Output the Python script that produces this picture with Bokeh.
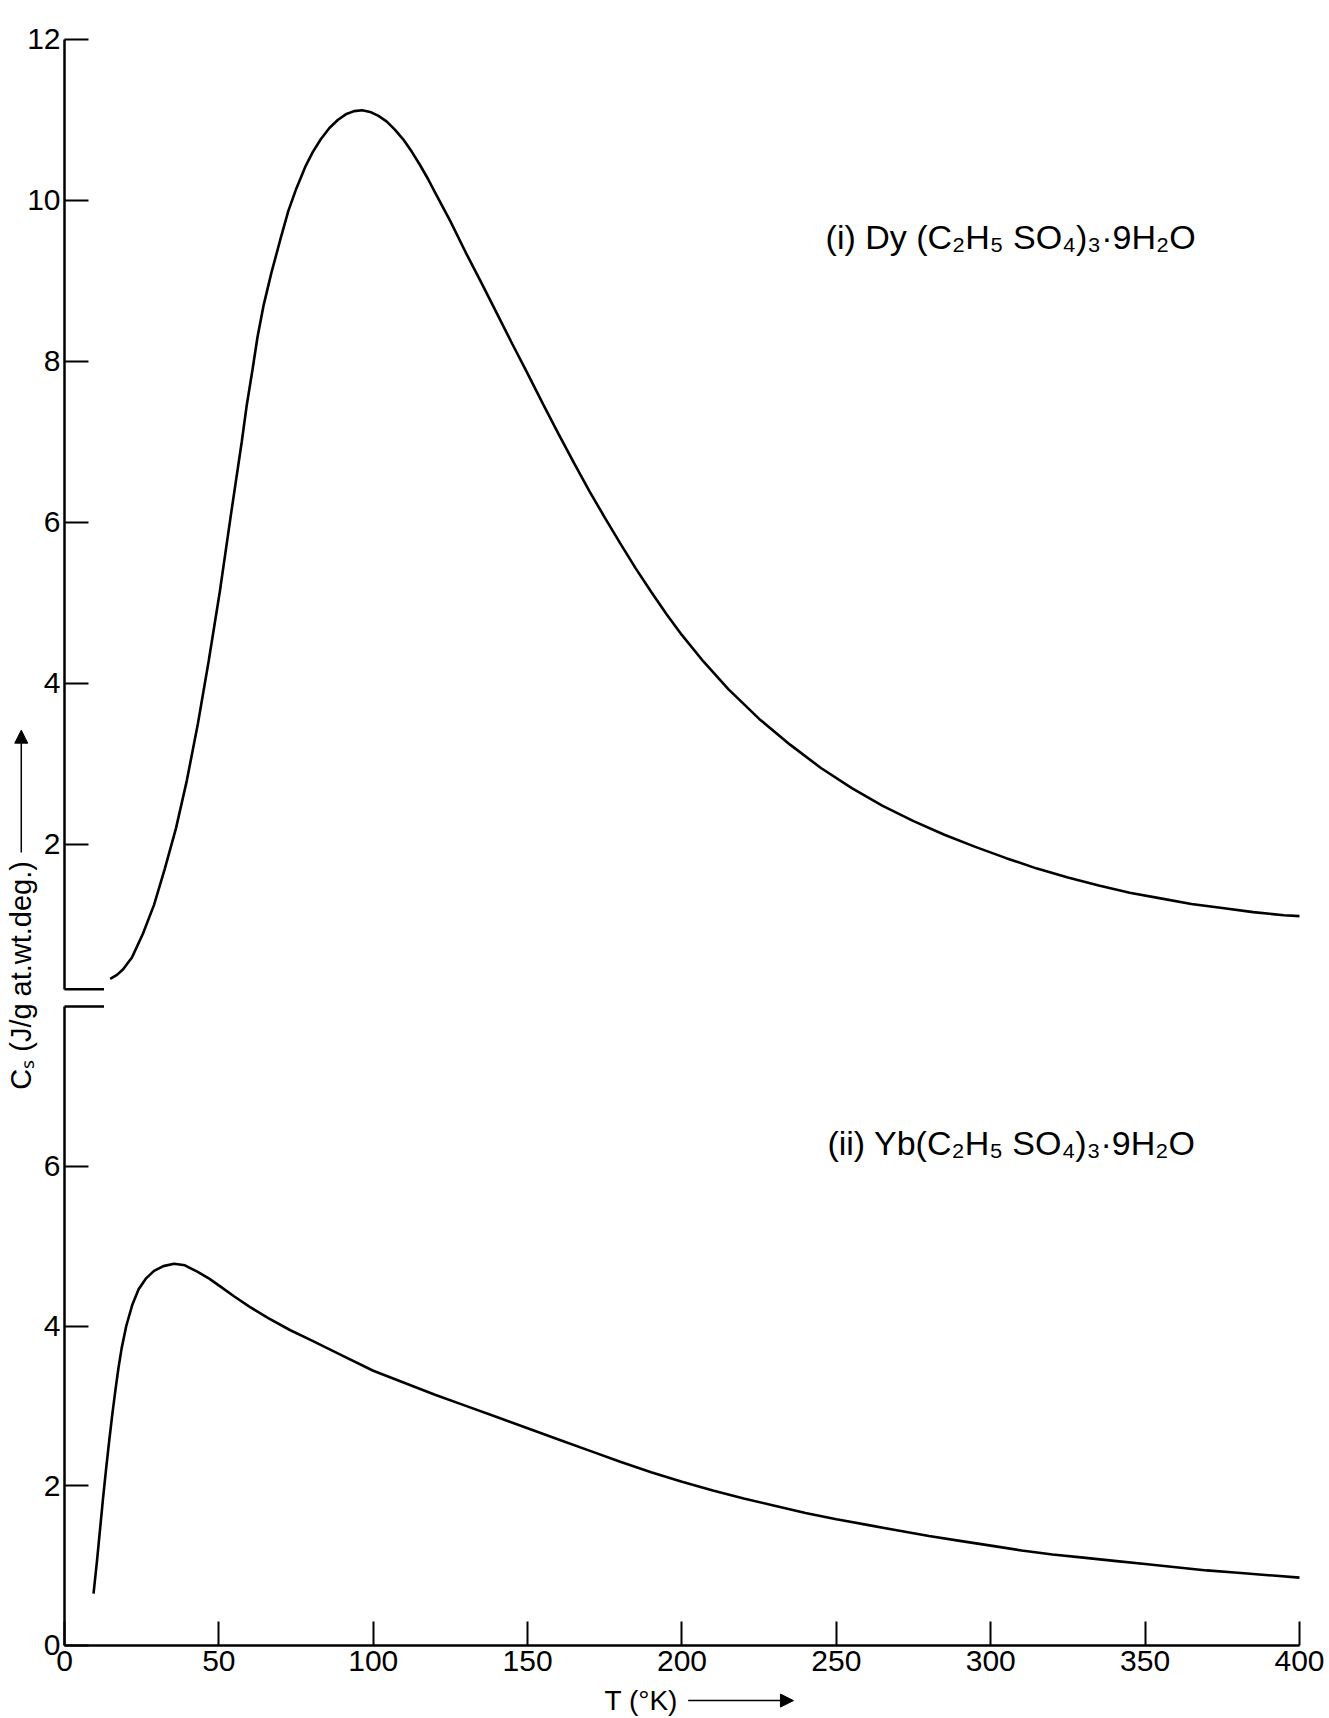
from math import pi
from bokeh.plotting import figure
from bokeh.layouts import column
from bokeh.models import Range1d, FixedTicker, Label, Arrow, NormalHead
from bokeh.embed import file_html
from bokeh.resources import INLINE

# ---------------- data ----------------
dy_T = [14.8, 17.0, 19.0, 21.9, 25.4, 29.0, 32.5, 36.1, 39.6, 43.2, 46.7, 50.3,
        53.8, 57.4, 59.0, 60.9, 62.5, 64.5, 67.0, 69.8, 72.5, 75.1, 78.0, 80.4,
        83.0, 85.8, 88.5, 91.1, 93.8, 96.4, 99.0, 101.7, 104.4, 107.0, 109.7,
        112.4, 115.0, 117.7, 120, 125, 130, 135, 140, 145, 150, 155, 160, 165,
        170, 175, 180, 185, 190, 195, 200, 207, 215, 225, 235, 245, 255, 265,
        275, 285, 295, 305, 315, 325, 335, 345, 355, 365, 375, 385, 395, 400]
dy_C = [0.33, 0.38, 0.45, 0.60, 0.89, 1.25, 1.70, 2.20, 2.79, 3.50, 4.28, 5.14,
        6.07, 7.00, 7.45, 7.90, 8.30, 8.70, 9.10, 9.50, 9.87, 10.15, 10.42, 10.60,
        10.76, 10.90, 11.00, 11.07, 11.11, 11.12, 11.10, 11.05, 10.98, 10.88, 10.76,
        10.61, 10.45, 10.27, 10.10, 9.74, 9.35, 8.98, 8.60, 8.22, 7.85, 7.47, 7.10, 6.74,
        6.39, 6.06, 5.74, 5.43, 5.14, 4.86, 4.60, 4.27, 3.93, 3.56, 3.24, 2.95, 2.70, 2.48,
        2.29, 2.12, 1.97, 1.83, 1.70, 1.59, 1.49, 1.40, 1.33, 1.26, 1.21, 1.16, 1.12, 1.11]

yb_T = [9.4, 10.5, 11.5, 12.5, 13.5, 14.5, 15.5, 16.5, 17.5, 18.5, 20.0, 22.0,
        24.0, 26.5, 29.0, 32.0, 35.5, 39.0, 43.0, 47.0, 51.0, 55.0, 60.0, 66.0,
        73.0, 80.0, 90.0, 100, 110, 120, 130, 140, 150, 160, 170, 180, 190, 200,
        210, 220, 230, 240, 250, 260, 270, 280, 290, 300, 310, 320, 330, 340,
        350, 360, 370, 380, 390, 400]
yb_C = [0.65, 1.05, 1.45, 1.85, 2.22, 2.57, 2.90, 3.20, 3.48, 3.72, 4.00, 4.27,
        4.46, 4.60, 4.69, 4.75, 4.78, 4.76, 4.68, 4.59, 4.48, 4.37, 4.24, 4.10,
        3.95, 3.82, 3.63, 3.44, 3.29, 3.14, 3.00, 2.86, 2.72, 2.58, 2.44, 2.30, 2.17, 2.05,
        1.94, 1.84, 1.75, 1.66, 1.58, 1.51, 1.44, 1.37, 1.31, 1.25, 1.19, 1.14, 1.10, 1.06,
        1.02, 0.98, 0.94, 0.91, 0.88, 0.85]

x_ticks = [0, 50, 100, 150, 200, 250, 300, 350, 400]
upper_ticks = [2, 4, 6, 8, 10, 12]
lower_ticks = [0, 2, 4, 6]

label_dy = "(i) Dy (C\u2082H\u2085 SO\u2084)\u2083\u00b79H\u2082O"
label_yb = "(ii) Yb(C\u2082H\u2085 SO\u2084)\u2083\u00b79H\u2082O"
x_title = "T (\u00b0K)"
y_title_lower = "C\u209b (J/g"
y_title_upper = "at.wt.deg.)"

FONT = "Liberation Sans"

# --------------- figures ---------------
# frames fill the whole canvases; axes are pinned at x = 0 / y = 0
x_rng = Range1d(-20.73, 409.72)

up = figure(width=1329, height=997, x_range=x_rng, y_range=Range1d(0.099, 12.484),
            x_axis_location=None, output_backend="svg", toolbar_location=None,
            min_border=0)

lo = figure(width=1329, height=721, x_range=x_rng, y_range=Range1d(-0.914, 8.113),
            output_backend="svg", toolbar_location=None, min_border=0)

for p in (up, lo):
    p.outline_line_color = None
    p.grid.grid_line_color = None
    p.background_fill_color = "white"
    p.border_fill_color = "white"


def style_axis(ax, standoff):
    ax.fixed_location = 0
    ax.axis_line_width = 2.5
    ax.axis_line_color = "black"
    ax.major_tick_line_width = 2
    ax.major_tick_line_color = "black"
    ax.major_tick_in = 24
    ax.major_tick_out = 0
    ax.minor_tick_line_color = None
    ax.major_label_text_font = FONT
    ax.major_label_text_font_size = "30px"
    ax.major_label_text_color = "black"
    ax.major_label_standoff = standoff


up.yaxis.ticker = FixedTicker(ticks=upper_ticks)
up.yaxis.bounds = (0.2, 12)
style_axis(up.yaxis[0], 4)

lo.yaxis.ticker = FixedTicker(ticks=lower_ticks)
lo.yaxis.bounds = (0, 8)
style_axis(lo.yaxis[0], 4)

lo.xaxis.ticker = FixedTicker(ticks=x_ticks)
lo.xaxis.bounds = (0, 400)
style_axis(lo.xaxis[0], 6)

# curves
up.line(dy_T, dy_C, line_width=2.6, line_color="black")
lo.line(yb_T, yb_C, line_width=2.6, line_color="black")

# axis break marks
break_x_end = 12.8
up.segment(x0=[0], y0=[0.2], x1=[break_x_end], y1=[0.2], line_width=2.5, line_color="black")
lo.segment(x0=[0], y0=[8], x1=[break_x_end], y1=[8], line_width=2.5, line_color="black")

# compound labels
up.add_layout(Label(x=246.5, y=9.55, text=label_dy, text_font=FONT,
                    text_font_size="34px", text_color="black",
                    text_baseline="alphabetic"))
lo.add_layout(Label(x=247.1, y=6.29, text=label_yb, text_font=FONT,
                    text_font_size="34px", text_color="black",
                    text_baseline="alphabetic"))

# x title with arrow
lo.add_layout(Label(x=174.9, y=-0.69, text=x_title, text_font=FONT,
                    text_font_size="28px", text_color="black",
                    text_baseline="middle"))
lo.add_layout(Arrow(x_start=202.0, y_start=-0.69, x_end=236.1, y_end=-0.69,
                    line_width=1.5, line_color="black",
                    end=NormalHead(size=13, fill_color="black", line_color="black")))

# y title (split across the two panels) with arrow
lo.add_layout(Label(x=-14.0, y=8.04, text=y_title_lower, angle=pi / 2,
                    text_align="right", text_baseline="middle", text_font=FONT,
                    text_font_size="29px", text_color="black"))
up.add_layout(Label(x=-14.0, y=0.112, text=y_title_upper, angle=pi / 2,
                    text_align="left", text_baseline="middle", text_font=FONT,
                    text_font_size="29px", text_color="black"))
up.add_layout(Arrow(x_start=-14.0, y_start=1.90, x_end=-14.0, y_end=3.42,
                    line_width=1.5, line_color="black",
                    end=NormalHead(size=13, fill_color="black", line_color="black")))

layout = column(up, lo, spacing=0)
open("out.html", "w").write(file_html(layout, INLINE))
